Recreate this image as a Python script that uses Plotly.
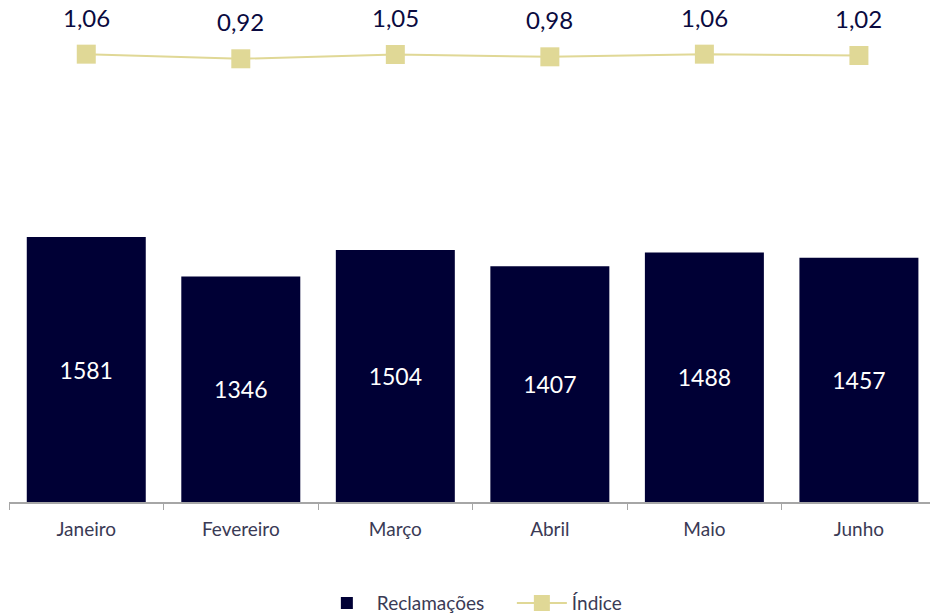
import plotly.graph_objects as go

meses = ["Janeiro", "Fevereiro", "Março", "Abril", "Maio", "Junho"]
reclamacoes = [1581, 1346, 1504, 1407, 1488, 1457]
indice = [1.06, 0.92, 1.05, 0.98, 1.06, 1.02]
indice_txt = ["1,06", "0,92", "1,05", "0,98", "1,06", "1,02"]

NAVY = "#000035"
GOLD = "#e0d896"
FONT = "Lato"

fig = go.Figure()
fig.add_trace(go.Bar(
    x=meses, y=reclamacoes, name="Reclamações",
    marker=dict(color=NAVY, line=dict(width=0)),
    text=[str(v) for v in reclamacoes], textposition="inside",
    insidetextanchor="middle",
    textfont=dict(color="white", size=23, family=FONT),
))
fig.add_trace(go.Scatter(
    x=meses, y=indice, name="Índice", yaxis="y2",
    mode="lines+markers",
    line=dict(color=GOLD, width=2),
    marker=dict(symbol="square", size=19, color=GOLD),
))
for m, v, t in zip(meses, indice, indice_txt):
    fig.add_annotation(x=m, y=v, yref="y2", text=t, showarrow=False,
                       yshift=37, font=dict(size=24, color="#0a0a40", family=FONT))

fig.update_layout(
    width=930, height=613,
    margin=dict(l=9, r=0, t=0, b=111, autoexpand=False),
    paper_bgcolor="white", plot_bgcolor="white",
    bargap=0.23,
    font=dict(family=FONT, color="#3a3a55", size=19),
    xaxis=dict(range=[-0.5, 5.46], showline=True, linecolor="#a6a6a6", linewidth=1.5,
               ticks="outside", tickson="boundaries", ticklen=6, tickcolor="#a6a6a6",
               tickfont=dict(size=19, color="#3a3a55"), ticklabelstandoff=9),
    yaxis=dict(range=[0, 2995], visible=False, showgrid=False),
    yaxis2=dict(range=[-12.5, 2.7], overlaying="y", visible=False, showgrid=False),
    legend=dict(orientation="h", x=0.546, xanchor="center", yref="container",
                y=0.016, yanchor="middle", entrywidth=130,
                font=dict(size=19, color="#3a3a55"), itemwidth=50),
    showlegend=True,
)
fig.write_html("out.html", config={"displayModeBar": False},
               post_script="document.body.style.margin='0';document.body.style.padding='0';")
